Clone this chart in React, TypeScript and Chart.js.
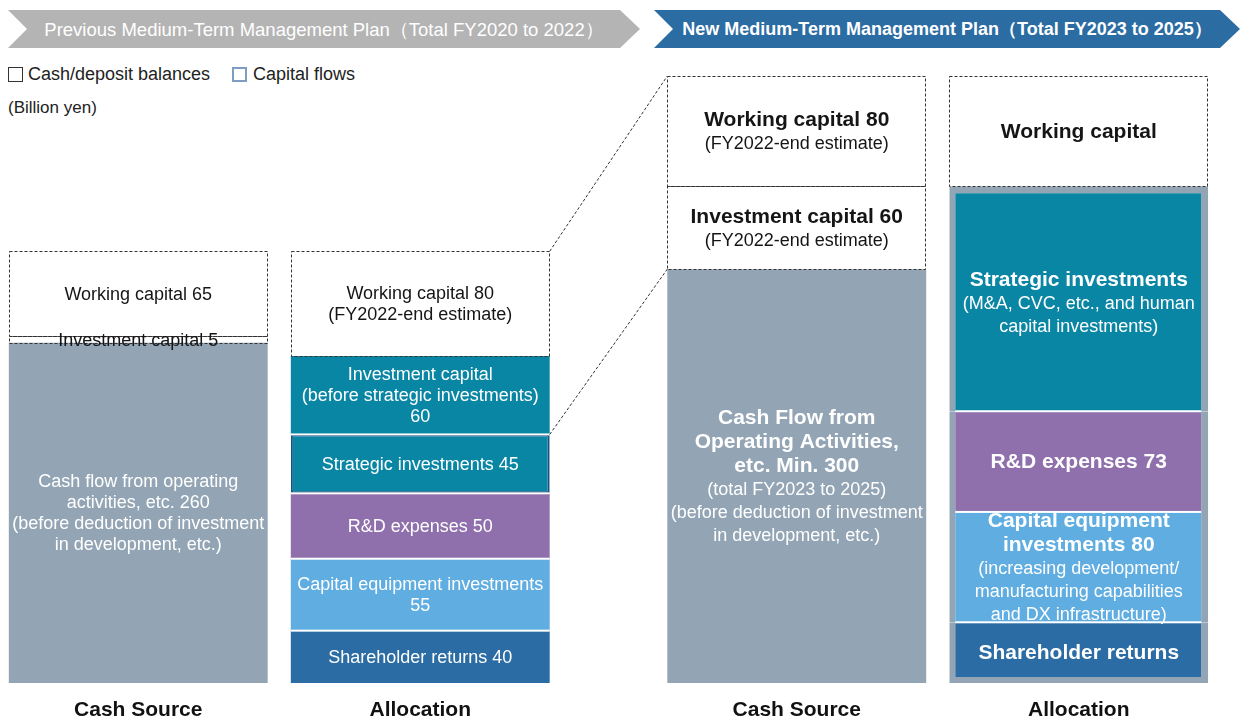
import React, { useEffect, useRef } from "react";
import { Chart, registerables } from "chart.js";

Chart.register(...registerables);

// ---------- data ----------
const planTitles = [
  "Previous Medium-Term Management Plan（Total FY2020 to 2022）",
  "New Medium-Term Management Plan（Total FY2023 to 2025）",
];
const columnTitles = ["Cash Source", "Allocation"];
const legendLabels = ["Cash/deposit balances", "Capital flows"];
const unitLabel = "(Billion yen)";

// segments listed bottom → top; "*" prefix = bold line
const prevSourceValues = [260, 5, 65];
const prevSourceKinds = ["cf", "cash", "cash"];
const prevSourceLabels = [
  ["Cash flow from operating", "activities, etc. 260", "(before deduction of investment", "in development, etc.)"],
  ["Investment capital 5"],
  ["Working capital 65"],
];

const prevAllocValues = [40, 55, 50, 45, 60, 80];
const prevAllocKinds = ["sh", "capex", "rd", "strat", "invcap", "cash"];
const prevAllocLabels = [
  ["Shareholder returns 40"],
  ["Capital equipment investments", "55"],
  ["R&D expenses 50"],
  ["Strategic investments 45"],
  ["Investment capital", "(before strategic investments)", "60"],
  ["Working capital 80", "(FY2022-end estimate)"],
];

const newSourceValues = [300, 60, 80];
const newSourceKinds = ["cf", "cash", "cash"];
const newSourceLabels = [
  ["*Cash Flow from", "*Operating Activities,", "*etc. Min. 300", "(total FY2023 to 2025)", "(before deduction of investment", "in development, etc.)"],
  ["*Investment capital 60", "(FY2022-end estimate)"],
  ["*Working capital 80", "(FY2022-end estimate)"],
];

const newAllocValues = [44, 80, 73, 163, 80];
const newAllocKinds = ["sh", "capex", "rd", "strat", "cash"];
const newAllocLabels = [
  ["*Shareholder returns"],
  ["*Capital equipment", "*investments 80", "(increasing development/", "manufacturing capabilities", "and DX infrastructure)"],
  ["*R&D expenses 73"],
  ["*Strategic investments", "(M&A, CVC, etc., and human", "capital investments)"],
  ["*Working capital"],
];

// ---------- styles ----------
const FILL: Record<string, string> = {
  cf: "#93a5b5",
  cash: "#ffffff",
  invcap: "#0a86a5",
  strat: "#0a86a5",
  rd: "#8f70ad",
  capex: "#5fade1",
  sh: "#2a6ca3",
};
const FRAME = "#93a5b5";
const FONT = '"Liberation Sans", Arial, sans-serif';

function buildDatasets() {
  const out: any[] = [];
  const add = (group: number, stack: string, values: number[], kinds: string[], labels: string[][]) => {
    values.forEach((v, i) => {
      const kind = kinds[i];
      const isCash = kind === "cash";
      const framed = group === 1 && stack === "alloc" && !isCash;
      const lastFlow = kinds.filter((k) => k !== "cash").length - 1;
      let borderWidth: any = 0;
      let borderColor: string = "rgba(0,0,0,0)";
      if (framed) {
        borderColor = FRAME;
        borderWidth = { left: 6, right: 7, top: i === lastFlow ? 7 : 0, bottom: i === 0 ? 6 : 0 };
      } else if (group === 0 && kind === "strat") {
        borderColor = "#1d4f86";
        borderWidth = 2;
      }
      out.push({
        label: labels[i].join(" ").replace(/\*/g, ""),
        data: group === 0 ? [v, null] : [null, v],
        stack,
        yAxisID: group === 0 ? "yPrev" : "y",
        backgroundColor: FILL[kind],
        borderColor,
        borderWidth,
        borderSkipped: false,
        inflateAmount: 0,
        // custom props for the overlay plugin
        grp: group,
        seg: i,
        kind,
        lines: labels[i],
        dashed: isCash,
        sepBottom: !isCash && i > 0 && kinds[i - 1] !== "cash",
        insetL: framed ? 6 : 0,
        insetR: framed ? 7 : 0,
        topInset: framed && i === lastFlow ? 7 : 0,
      });
    });
  };
  add(0, "src", prevSourceValues, prevSourceKinds, prevSourceLabels);
  add(1, "src", newSourceValues, newSourceKinds, newSourceLabels);
  add(0, "alloc", prevAllocValues, prevAllocKinds, prevAllocLabels);
  add(1, "alloc", newAllocValues, newAllocKinds, newAllocLabels);
  return out;
}

const overlayPlugin = {
  id: "overlay",
  afterDatasetsDraw(chart: any) {
    const ctx = chart.ctx as CanvasRenderingContext2D;
    const geo: Record<string, any> = {};
    const items: any[] = [];
    chart.data.datasets.forEach((d: any, di: number) => {
      const meta = chart.getDatasetMeta(di);
      meta.data.forEach((el: any, i: number) => {
        if (d.data[i] == null) return;
        const p = el.getProps(["x", "y", "base", "width"], true);
        const left = p.x - p.width / 2;
        const right = p.x + p.width / 2;
        const g = { x: p.x, top: p.y, base: p.base, left, right, width: p.width };
        geo[`${d.grp}-${d.stack}-${d.seg}`] = g;
        items.push({ d, g });
        if (d.sepBottom) {
          ctx.fillStyle = "#ffffff";
          ctx.fillRect(left + d.insetL, p.base - 1, p.width - d.insetL - d.insetR, 2);
        }
        if (d.dashed) {
          ctx.save();
          ctx.setLineDash([3, 2]);
          ctx.strokeStyle = "#333";
          ctx.lineWidth = 1;
          ctx.strokeRect(Math.round(left) + 0.5, Math.round(p.y) + 0.5, Math.round(p.width) - 1, Math.round(p.base - p.y));
          ctx.restore();
        }
      });
    });

    // dashed zoom lines from previous allocation to new cash source
    const a = geo["0-alloc-5"], b = geo["0-alloc-4"], c = geo["1-src-2"], e = geo["1-src-1"];
    if (a && b && c && e) {
      ctx.save();
      ctx.setLineDash([3, 2]);
      ctx.strokeStyle = "#333";
      ctx.lineWidth = 1;
      ctx.beginPath();
      ctx.moveTo(a.right, a.top);
      ctx.lineTo(c.left, c.top);
      ctx.moveTo(b.right, b.base);
      ctx.lineTo(e.left, e.base);
      ctx.stroke();
      ctx.restore();
    }

    // labels inside segments
    ctx.save();
    ctx.textAlign = "center";
    ctx.textBaseline = "middle";
    for (const { d, g } of items) {
      const lines: string[] = d.lines;
      const lh = (l: string) => (d.grp === 0 ? 21 : l.startsWith("*") ? 24 : 23);
      const total = lines.reduce((s, l) => s + lh(l), 0);
      const cy = (g.top + d.topInset + g.base) / 2;
      let yy = cy - total / 2;
      ctx.fillStyle = d.dashed ? "#151515" : "#ffffff";
      for (const l of lines) {
        const bold = l.startsWith("*");
        const t = bold ? l.slice(1) : l;
        ctx.font = `${bold ? "bold 21px" : "18px"} ${FONT}`;
        ctx.fillText(t, g.x, yy + lh(l) / 2 + 1);
        yy += lh(l);
      }
    }

    // column titles under each stack
    ctx.fillStyle = "#111";
    ctx.font = `bold 21px ${FONT}`;
    [0, 1].forEach((grp) => {
      ["src", "alloc"].forEach((st, k) => {
        const g = geo[`${grp}-${st}-0`];
        if (g) ctx.fillText(columnTitles[k], g.x, chart.chartArea.bottom + 27);
      });
    });
    ctx.restore();
  },
};

export default function App() {
  const ref = useRef<HTMLCanvasElement>(null);
  useEffect(() => {
    const chart = new Chart(ref.current as HTMLCanvasElement, {
      type: "bar",
      data: { labels: planTitles, datasets: buildDatasets() },
      options: {
        responsive: false,
        animation: false,
        devicePixelRatio: 1,
        layout: { padding: { top: 76, bottom: 35, left: 0, right: 0 } },
        plugins: { legend: { display: false }, tooltip: { enabled: false } },
        datasets: { bar: { categoryPercentage: 0.8565, barPercentage: 0.918 } },
        scales: {
          x: { type: "category", stacked: true, display: false, offset: true },
          y: { type: "linear", axis: "y", stacked: true, display: false, min: 0, max: 440 },
          yPrev: { type: "linear", axis: "y", stacked: true, display: false, min: 0, max: 464 },
        },
      } as any,
      plugins: [overlayPlugin],
    });
    return () => chart.destroy();
  }, []);

  const banner = (left: number, width: number, color: string, text: string, bold: boolean) => (
    <div
      style={{
        position: "absolute",
        left,
        top: 10,
        width,
        height: 38,
        background: color,
        clipPath: "polygon(0 0, calc(100% - 20px) 0, 100% 50%, calc(100% - 20px) 100%, 0 100%, 19px 50%)",
        display: "flex",
        alignItems: "center",
        justifyContent: "center",
        color: "#fff",
        fontFamily: FONT,
        fontSize: bold ? 18 : 18.5,
        fontWeight: bold ? "bold" : "normal",
        whiteSpace: "nowrap",
      }}
    >
      {text}
    </div>
  );

  return (
    <div style={{ position: "fixed", left: 0, top: 0, width: 1240, height: 718, overflow: "hidden", background: "#fff", fontFamily: FONT }}>
      {banner(8, 632, "#b4b4b4", planTitles[0], false)}
      {banner(654, 586, "#2b6ca3", planTitles[1], true)}
      <div style={{ position: "absolute", left: 8, top: 67, width: 15, height: 15, boxSizing: "border-box", border: "1px solid #333" }} />
      <div style={{ position: "absolute", left: 28, top: 64, fontSize: 18, lineHeight: "21px", color: "#222" }}>{legendLabels[0]}</div>
      <div style={{ position: "absolute", left: 232, top: 67, width: 15, height: 15, boxSizing: "border-box", border: "2px solid #7f9dc2" }} />
      <div style={{ position: "absolute", left: 253, top: 64, fontSize: 18, lineHeight: "21px", color: "#222" }}>{legendLabels[1]}</div>
      <div style={{ position: "absolute", left: 8, top: 98, fontSize: 17, lineHeight: "20px", color: "#222" }}>{unitLabel}</div>
      <canvas ref={ref} width={1317} height={718} style={{ position: "absolute", left: -50, top: 0, width: 1317, height: 718 }} />
    </div>
  );
}
